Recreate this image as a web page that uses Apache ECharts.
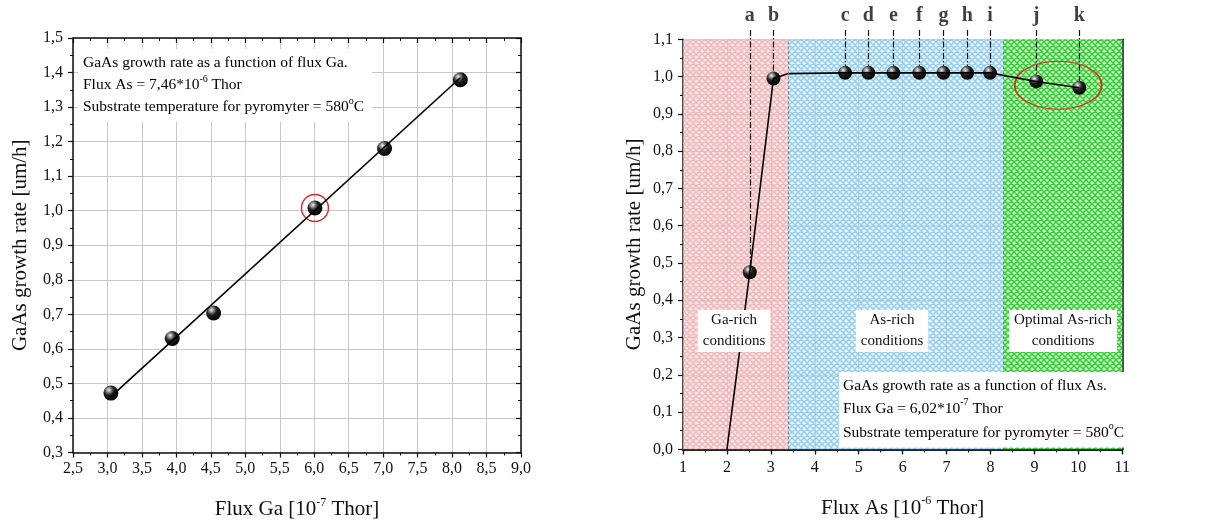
<!DOCTYPE html>
<html>
<head>
<meta charset="utf-8">
<title>GaAs growth rate</title>
<script src="https://cdn.jsdelivr.net/npm/echarts@6/dist/echarts.min.js"></script>
<style>
html, body { margin: 0; padding: 0; background: #fff; }
#chart { width: 1213px; height: 525px; }
</style>
</head>
<body>
<div id="chart"></div>
<script>
// left panel: growth rate vs flux Ga (Flux As fixed)
var fluxGa = [3.05, 3.94, 4.54, 6.01, 7.02, 8.12];
var rateGa = [0.472, 0.630, 0.704, 1.008, 1.180, 1.379];
var fitGaStart = [3.05, 0.462];
var fitGaEnd = [8.12, 1.385];
var markedGa = [6.01, 1.008];

// right panel: growth rate vs flux As (Flux Ga fixed)
var pointLetters = ['a', 'b', 'c', 'd', 'e', 'f', 'g', 'h', 'i', 'j', 'k'];
var fluxAs = [2.52, 3.06, 4.69, 5.22, 5.79, 6.38, 6.93, 7.47, 7.99, 9.04, 10.02];
var rateAs = [0.475, 0.995, 1.010, 1.010, 1.010, 1.010, 1.010, 1.010, 1.010, 0.987, 0.970];
var curveStart = [2.0, 0.0];
var curveKnee = [3.40, 1.008];
var optimalCenter = [9.54, 0.977];

// regions (x edges) and their captions
var regionEdges = [1, 3.4, 8.3, 11];
var regionNames = ['Ga-rich\nconditions', 'As-rich\nconditions', 'Optimal As-rich\nconditions'];

var FONT = '"Liberation Serif", "Times New Roman", serif';

var myChart = echarts.init(document.getElementById('chart'));

// 小球样式
function sphere() {
    return new echarts.graphic.RadialGradient(0.36, 0.3, 0.75, [
        { offset: 0, color: '#f4f4f4' },
        { offset: 0.18, color: '#9a9a9a' },
        { offset: 0.45, color: '#202020' },
        { offset: 1, color: '#000' }
    ]);
}

// cross hatch pattern
function hatch(bg, line) {
    var c = document.createElement('canvas');
    c.width = 6; c.height = 6;
    var ctx = c.getContext('2d');
    ctx.fillStyle = bg;
    ctx.fillRect(0, 0, 6, 6);
    ctx.strokeStyle = line;
    ctx.lineWidth = 1.5;
    ctx.beginPath();
    for (var k = -1; k <= 1; k++) {
        ctx.moveTo(k * 6, 0); ctx.lineTo(k * 6 + 6, 6);
        ctx.moveTo(k * 6 + 6, 0); ctx.lineTo(k * 6, 6);
    }
    ctx.stroke();
    return { image: c, repeat: 'repeat' };
}

function comma(v) {
    return v.toFixed(1).replace('.', ',');
}

var nameRich = {
    n: { fontFamily: FONT, fontSize: 21, color: '#111', lineHeight: 26 },
    s: { fontFamily: FONT, fontSize: 12, color: '#111', verticalAlign: 'top', lineHeight: 14 }
};
var boxRich = {
    n: { fontFamily: FONT, fontSize: 15.5, color: '#111', lineHeight: 22 },
    s: { fontFamily: FONT, fontSize: 10, color: '#111', verticalAlign: 'top', lineHeight: 12 }
};

function mainAxis(grid, pos, min, max, interval, fmt, margin, name, gap) {
    return {
        type: 'value', gridIndex: grid, position: pos,
        min: min, max: max, interval: interval,
        name: name, nameLocation: 'middle', nameGap: gap,
        nameTextStyle: { rich: nameRich },
        axisLine: { show: true, lineStyle: { color: '#111', width: 1.5 } },
        axisTick: { show: true, inside: false, length: 5, lineStyle: { color: '#111', width: 1.2 } },
        minorTick: { show: true, splitNumber: 2, length: 3, lineStyle: { color: '#111', width: 1 } },
        splitLine: { show: true, lineStyle: { color: '#c8c8c8', width: 1 } },
        axisLabel: { fontFamily: FONT, fontSize: 16, color: '#111', margin: margin, formatter: fmt }
    };
}

function mirrorAxis(grid, pos, min, max, interval) {
    return {
        type: 'value', gridIndex: grid, position: pos,
        min: min, max: max, interval: interval,
        axisLine: { show: true, lineStyle: { color: '#111', width: 1.5 } },
        axisTick: { show: true, inside: true, length: 5, lineStyle: { color: '#111', width: 1.2 } },
        minorTick: { show: true, splitNumber: 2, length: 3, lineStyle: { color: '#111', width: 1 } },
        splitLine: { show: false },
        axisLabel: { show: false }
    };
}

var spherePoints = function (xs, ys) {
    return xs.map(function (x, i) { return [x, ys[i]]; });
};

var curveAs = [curveStart].concat(spherePoints(fluxAs.slice(0, 2), rateAs.slice(0, 2)))
    .concat([curveKnee]).concat(spherePoints(fluxAs.slice(2), rateAs.slice(2)));

var patterns = [
    hatch('rgba(246,214,214,0.55)', 'rgba(238,168,172,0.75)'),
    hatch('rgba(214,236,250,0.45)', 'rgba(128,196,236,0.8)'),
    hatch('rgba(190,245,190,0.7)', 'rgb(52,206,52)')
];

var option = {
    animation: false,
    backgroundColor: '#fff',
    grid: [
        { left: 73, top: 38, width: 448, height: 415 },
        { left: 683, top: 39.3, width: 439.3, height: 410 },
        { left: 683, top: 2, width: 439.3, height: 447.3 }
    ],
    xAxis: [
        mainAxis(0, 'bottom', 2.5, 9.0, 0.5, comma, 8, '{n|Flux Ga [10}{s|-7}{n| Thor]}', 44),
        mirrorAxis(0, 'top', 2.5, 9.0, 0.5),
        mainAxis(1, 'bottom', 1, 11, 1, function (v) { return String(v); }, 10, '{n|Flux As [10}{s|-6}{n| Thor]}', 46),
        mirrorAxis(1, 'top', 1, 11, 1),
        { type: 'value', gridIndex: 2, min: 1, max: 11, show: false }
    ],
    yAxis: [
        mainAxis(0, 'left', 0.3, 1.5, 0.1, comma, 10, '{n|GaAs growth rate [um/h]}', 40),
        mirrorAxis(0, 'right', 0.3, 1.5, 0.1),
        mainAxis(1, 'left', 0, 1.1, 0.1, comma, 10, '{n|GaAs growth rate [um/h]}', 36),
        mirrorAxis(1, 'right', 0, 1.1, 0.1),
        { type: 'value', gridIndex: 2, min: 0, max: 1.2, show: false }
    ],
    series: [
        {
            name: 'fit Ga', type: 'line', xAxisIndex: 0, yAxisIndex: 0,
            data: [fitGaStart, fitGaEnd], symbol: 'none', silent: true,
            lineStyle: { color: '#000', width: 1.6 }
        },
        {
            name: 'rate Ga', type: 'scatter', xAxisIndex: 0, yAxisIndex: 0,
            data: spherePoints(fluxGa, rateGa), symbolSize: 15, silent: true,
            itemStyle: { color: sphere(), opacity: 1 }
        },
        {
            name: 'marked', type: 'scatter', xAxisIndex: 0, yAxisIndex: 0,
            data: [markedGa], symbolSize: 27, silent: true,
            itemStyle: { color: 'rgba(0,0,0,0)', borderColor: '#e02828', borderWidth: 1.4, opacity: 1 }
        },
        {
            name: 'rate As curve', type: 'line', xAxisIndex: 2, yAxisIndex: 2,
            data: curveAs, symbol: 'none', silent: true,
            lineStyle: { color: '#000', width: 1.6 },
            markArea: {
                silent: true,
                data: regionNames.map(function (n, i) {
                    return [{ xAxis: regionEdges[i], itemStyle: { color: patterns[i] } }, { xAxis: regionEdges[i + 1] }];
                })
            },
            markLine: {
                silent: true, symbol: 'none', label: { show: false },
                lineStyle: { color: '#55708a', width: 0.8, type: [3, 2] },
                data: regionEdges.slice(1, 3).map(function (x) { return { xAxis: x }; })
            }
        },
        {
            name: 'leaders', type: 'lines', coordinateSystem: 'cartesian2d',
            xAxisIndex: 4, yAxisIndex: 4, silent: true,
            lineStyle: { color: '#111', width: 1.2, opacity: 1, type: [6, 2, 1.5, 2] },
            data: fluxAs.map(function (x, i) { return { coords: [[x, 1.125], [x, rateAs[i]]] }; })
        },
        {
            name: 'rate As', type: 'scatter', xAxisIndex: 2, yAxisIndex: 2,
            data: spherePoints(fluxAs, rateAs), symbolSize: 14, silent: true,
            itemStyle: { color: sphere(), opacity: 1 }
        },
        {
            name: 'optimal', type: 'scatter', xAxisIndex: 2, yAxisIndex: 2,
            data: [optimalCenter], symbolSize: [87, 48], silent: true,
            itemStyle: { color: 'rgba(0,0,0,0)', borderColor: '#d8301e', borderWidth: 1.4, opacity: 1 }
        },
        {
            name: 'letters', type: 'scatter', xAxisIndex: 4, yAxisIndex: 4,
            data: fluxAs.map(function (x, i) { return [x, 1.162, pointLetters[i]]; }),
            symbolSize: 1, silent: true, itemStyle: { color: 'rgba(0,0,0,0)' },
            label: {
                show: true, position: 'inside',
                formatter: function (p) { return p.data[2]; },
                fontFamily: FONT, fontSize: 20, fontWeight: 'bold', color: '#111'
            }
        }
    ],
    graphic: [
        {
            type: 'text', left: 78, top: 49, z: 100, silent: true,
            style: {
                text: '{n|GaAs growth rate as a function of flux Ga.}\n' +
                    '{n|Flux As = 7,46*10}{s|-6}{n| Thor}\n' +
                    '{n|Substrate temperature for pyromyter = 580}{s|o}{n|C}',
                rich: boxRich, backgroundColor: '#fff', padding: [3, 8, 4, 5]
            }
        },
        {
            type: 'text', left: 839, top: 372, z: 100, silent: true,
            style: {
                text: '{n|GaAs growth rate as a function of flux As.}\n' +
                    '{n|Flux Ga = 6,02*10}{s|-7}{n| Thor}\n' +
                    '{n|Substrate temperature for pyromyter = 580}{s|o}{n|C}',
                rich: {
                    n: { fontFamily: FONT, fontSize: 15.5, color: '#111', lineHeight: 23.5 },
                    s: boxRich.s
                },
                backgroundColor: '#fff', padding: [2, 2, 3, 4]
            }
        }
    ].concat(regionNames.map(function (n, i) {
        var cx = [734, 892, 1063][i];
        return {
            type: 'text', x: cx, y: 310, z: 100, silent: true,
            style: {
                text: n, align: 'center', verticalAlign: 'top',
                fontFamily: FONT, fontSize: 15, lineHeight: 21, fill: '#111',
                backgroundColor: '#fff', padding: [0, 5]
            }
        };
    }))
};

myChart.setOption(option);
window.addEventListener('resize', function () {
    myChart.resize();
});
</script>
</body>
</html>
